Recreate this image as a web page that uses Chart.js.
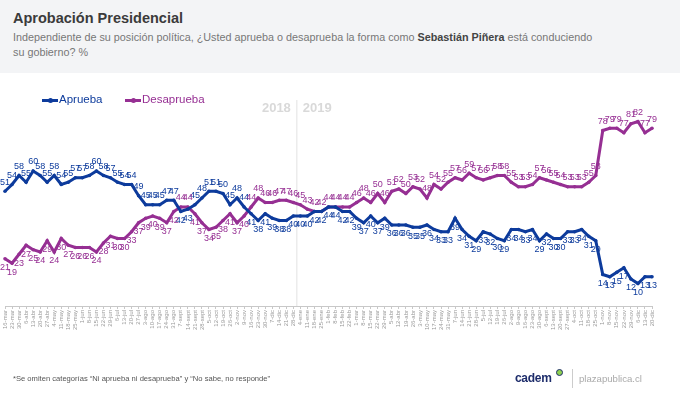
<!DOCTYPE html>
<html>
<head>
<meta charset="utf-8">
<script src="https://cdn.jsdelivr.net/npm/chart.js@4"></script>
<style>
  body { margin: 0; width: 680px; height: 393px; position: relative; overflow: hidden; background: #fff;
         font-family: 'Liberation Sans', sans-serif; }
  #head { position: absolute; left: 0; top: 0; width: 680px; height: 73px; background: #f3f4f6; }
  #title { position: absolute; left: 13px; top: 10px; font-size: 14.5px; font-weight: bold; color: #3b3b3b; }
  #sub { position: absolute; left: 13px; top: 30px; font-size: 10.8px; line-height: 15px; color: #777; }
  #sub b { color: #444; }
  #myChart { position: absolute; left: 0; top: 0; }
  .leg { position: absolute; top: 93px; font-size: 11.5px; }
  .leg i { position: absolute; top: 6px; height: 3px; width: 16px; }
  .leg i:after { content: ''; position: absolute; left: 6px; top: -1.5px; width: 5px; height: 5px; border-radius: 50%; background: inherit; }
  #foot { position: absolute; left: 13px; top: 374px; font-size: 7.6px; color: #555; }
  #cadem { position: absolute; left: 515px; top: 371px; font-size: 12px; font-weight: bold; color: #1e2d6b; letter-spacing: -0.3px; }
  #dot { position: absolute; left: 556px; top: 369px; width: 5px; height: 5px; border: 1.5px solid #1e2d6b; border-radius: 50%; background: #8fd14f; }
  #sep { position: absolute; left: 572px; top: 369px; width: 1px; height: 19px; background: #ccc; }
  #pp { position: absolute; left: 579px; top: 373px; font-size: 9.6px; color: #aaa; }
</style>
</head>
<body>
<div id="head">
  <div id="title">Aprobación Presidencial</div>
  <div id="sub">Independiente de su posición política, ¿Usted aprueba o desaprueba la forma como <b>Sebastián Piñera</b> está conduciendo<br>su gobierno? %</div>
</div>
<canvas id="myChart" width="680" height="393"></canvas>
<div class="leg" style="left:42px;color:#0d3b9c"><i style="left:0;background:#0d3b9c"></i><span style="margin-left:17px">Aprueba</span></div>
<div class="leg" style="left:125px;color:#962f93"><i style="left:0;background:#962f93"></i><span style="margin-left:17px">Desaprueba</span></div>
<div id="foot">*Se omiten categorías “Ni aprueba ni desaprueba” y “No sabe, no responde”</div>
<div id="cadem">cadem</div><div id="dot"></div>
<div id="sep"></div>
<div id="pp">plazapublica.cl</div>
<script>
var ctx = document.getElementById("myChart").getContext('2d');
const FONT = "'Liberation Sans', sans-serif";

const labels2018 = ["16-mar","23-mar","30-mar","6-abr","13-abr","20-abr","27-abr","4-may","11-may","18-may","25-may",
  "1-jun","8-jun","15-jun","22-jun","29-jun","6-jul","13-jul","20-jul","27-jul","3-ago","10-ago","17-ago","24-ago","31-ago",
  "7-sept","14-sept","21-sept","28-sept","5-oct","12-oct","19-oct","26-oct","2-nov","9-nov","16-nov","23-nov","30-nov",
  "7-dic","14-dic","21-dic","28-dic"];
const labels2019 = ["4-ene","11-ene","18-ene","25-ene","1-feb","8-feb","15-feb","22-feb","1-mar","8-mar","15-mar","22-mar","29-mar",
  "5-abr","12-abr","19-abr","26-abr","3-may","10-may","17-may","24-may","31-may","7-jun","14-jun","21-jun","28-jun",
  "5-jul","12-jul","19-jul","26-jul","2-ago","9-ago","16-ago","23-ago","30-ago","6-sept","13-sept","20-sept","27-sept",
  "4-oct","11-oct","18-oct","25-oct","1-nov","8-nov","15-nov","22-nov","29-nov","6-dic","13-dic","20-dic"];
const labels = labels2018.concat(labels2019);

const aprueba = [51,54,58,55,60,58,55,58,54,55,57,57,58,60,58,57,55,54,54,49,45,45,45,47,47,42,43,45,48,51,51,50,45,48,44,41,
  38,41,39,38,38,40,40,40,42,42,44,44,42,42,39,37,40,37,39,36,36,36,35,35,36,34,33,33,39,34,31,29,33,32,30,29,34,34,33,34,
  29,32,30,30,33,33,34,31,29,14,13,15,17,12,10,13,13];
const desaprueba = [21,19,23,27,25,24,29,24,30,27,26,26,26,24,28,31,30,30,33,37,39,40,39,37,42,44,44,41,37,34,35,38,41,37,40,44,
  48,46,46,47,47,46,45,43,42,42,44,44,44,44,46,48,46,50,46,51,52,50,53,52,48,54,52,55,57,56,59,57,56,57,58,58,55,53,53,54,
  57,56,55,54,53,53,53,55,58,78,79,79,77,81,82,77,79];

const BLUE = '#0d3b9c', PURPLE = '#962f93';
const lastIndex2018 = labels2018.length - 1;

// divider between years + "2018 | 2019"
const yearPlugin = {
  id: 'years',
  beforeDatasetsDraw(chart) {
    const x = chart.scales.x, c = chart.ctx;
    const px = (x.getPixelForValue(lastIndex2018) + x.getPixelForValue(lastIndex2018 + 1)) / 2;
    c.save();
    c.strokeStyle = '#e3e3e3'; c.lineWidth = 1;
    c.beginPath(); c.moveTo(px, 100); c.lineTo(px, chart.chartArea.bottom); c.stroke();
    c.font = 'bold 13px ' + FONT; c.fillStyle = '#d9d9d9'; c.textBaseline = 'middle';
    c.textAlign = 'right'; c.fillText('2018', px - 6, 108);
    c.textAlign = 'left'; c.fillText('2019', px + 6, 108);
    c.restore();
  }
};

// value labels: put on the side away from the other series
const valuePlugin = {
  id: 'values',
  afterDatasetsDraw(chart) {
    const c = chart.ctx;
    c.save();
    c.font = '9px ' + FONT; c.textAlign = 'center'; c.textBaseline = 'middle';
    chart.data.datasets.forEach(function(ds, d) {
      const other = chart.data.datasets[1 - d].data;
      chart.getDatasetMeta(d).data.forEach(function(pt, i) {
        const v = ds.data[i], o = other[i];
        let above = v > o;
        if (v === o) above = (i >= 35) ? d === 1 : d === 0;
        c.fillStyle = ds.borderColor;
        c.fillText(String(v), pt.x, pt.y + (above ? -9 : 9));
      });
    });
    c.restore();
  }
};

const config = {
  type: 'line',
  data: {
    labels: labels,
    datasets: [
      { label: 'Aprueba', data: aprueba, borderColor: BLUE, backgroundColor: BLUE, borderWidth: 3, pointRadius: 1.8, pointBorderWidth: 0, tension: 0 },
      { label: 'Desaprueba', data: desaprueba, borderColor: PURPLE, backgroundColor: PURPLE, borderWidth: 3, pointRadius: 1.8, pointBorderWidth: 0, tension: 0 }
    ]
  },
  options: {
    responsive: false,
    animation: false,
    layout: { padding: { left: 5, right: 28, top: 81, bottom: 61 } },
    plugins: { legend: { display: false }, tooltip: { enabled: false } },
    scales: {
      y: { display: false, min: 0, max: 100 },
      x: {
        afterFit: function(s) { s.height = 26; },
        border: { display: true, color: '#c8c8c8' },
        grid: { drawOnChartArea: false, drawTicks: true, tickLength: 3, color: '#c8c8c8' },
        ticks: { autoSkip: false, maxRotation: 90, minRotation: 90, padding: 1, color: '#999', font: { size: 6, family: FONT } }
      }
    }
  },
  plugins: [yearPlugin, valuePlugin]
};

var myChart = new Chart(ctx, config);
</script>
</body>
</html>
